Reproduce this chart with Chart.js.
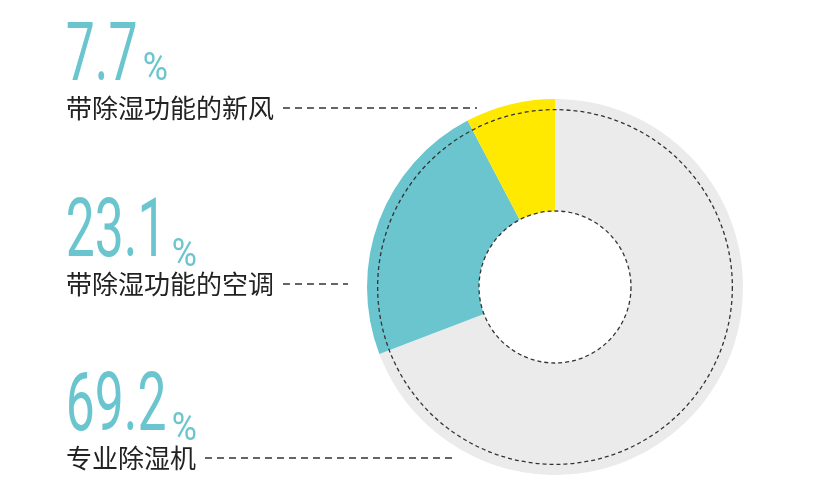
<!DOCTYPE html>
<html>
<head>
<meta charset="utf-8">
<script src="https://cdn.jsdelivr.net/npm/chart.js@4.4.1/dist/chart.umd.min.js"></script>
<style>
  html, body { margin: 0; padding: 0; background: #fff; }
  canvas { display: block; }
</style>
</head>
<body>
<canvas id="dehumidifier-share" width="830" height="501"></canvas>
<script>
// share of products with dehumidifying function
var categories = ['专业除湿机', '带除湿功能的空调', '带除湿功能的新风'];
var shares = [69.2, 23.1, 7.7];
var sliceColors = ['#EAEBEA', '#6BC5CE', '#FFE900'];

// where each callout goes, top to bottom (index into categories)
var calloutOrder = [2, 1, 0];
var calloutY = [80, 256, 430];     // baseline of the big number
var dashEndX = [477, 348, 452];

const dashedRings = {
    id: 'dashedRings',
    afterDatasetsDraw(chart) {
        const {ctx} = chart;
        const arc = chart.getDatasetMeta(0).data[0];
        const x = arc.x, y = arc.y;
        const inner = arc.innerRadius, outer = arc.outerRadius;
        ctx.save();
        ctx.strokeStyle = '#333';
        ctx.lineWidth = 1.3;
        ctx.setLineDash([4, 3]);
        ctx.beginPath();
        ctx.arc(x, y, inner, 0, Math.PI * 2);
        ctx.stroke();
        ctx.beginPath();
        ctx.arc(x, y, inner + (outer - inner) * 0.905, 0, Math.PI * 2);
        ctx.stroke();
        ctx.restore();
    }
};

const callouts = {
    id: 'callouts',
    afterDraw(chart) {
        const {ctx} = chart;
        const left = 67;
        const squeeze = 0.63;
        ctx.save();
        calloutOrder.forEach(function(idx, i) {
            const base = calloutY[i];
            const num = shares[idx].toFixed(1);

            // big condensed number
            ctx.save();
            ctx.fillStyle = '#6BC5CE';
            ctx.textBaseline = 'alphabetic';
            ctx.textAlign = 'left';
            ctx.font = '400 82px Roboto';
            ctx.translate(left, base);
            ctx.scale(squeeze, 1);
            ctx.fillText(num, -2, 0);
            const w = ctx.measureText(num).width * squeeze;
            ctx.restore();

            ctx.save();
            ctx.fillStyle = '#6BC5CE';
            ctx.font = '400 39px Roboto';
            ctx.translate(left + w + 4, base);
            ctx.scale(0.88, 1);
            ctx.fillText('%', 0, 0);
            ctx.restore();

            // category name + dashed leader
            const ty = base + 28;
            ctx.fillStyle = '#222';
            ctx.font = '26px "Noto Sans CJK SC"';
            ctx.textBaseline = 'middle';
            ctx.textAlign = 'left';
            ctx.fillText(categories[idx], left - 1, ty);
            const tw = ctx.measureText(categories[idx]).width;
            ctx.strokeStyle = '#333';
            ctx.lineWidth = 1.6;
            ctx.setLineDash([7, 5]);
            ctx.beginPath();
            ctx.moveTo(left + tw + 8, ty);
            ctx.lineTo(dashEndX[i], ty);
            ctx.stroke();
            ctx.setLineDash([]);
        });
        ctx.restore();
    }
};

const ctx = document.getElementById('dehumidifier-share').getContext('2d');
const chart = new Chart(ctx, {
    type: 'doughnut',
    data: {
        labels: categories,
        datasets: [{
            data: shares,
            backgroundColor: sliceColors,
            borderWidth: 0
        }]
    },
    plugins: [dashedRings, callouts],
    options: {
        responsive: false,
        animation: false,
        cutout: 76,
        layout: {
            padding: {left: 367, right: 87, top: 99, bottom: 26}
        },
        plugins: {
            legend: false,
            tooltip: {enabled: false}
        }
    }
});
</script>
</body>
</html>
